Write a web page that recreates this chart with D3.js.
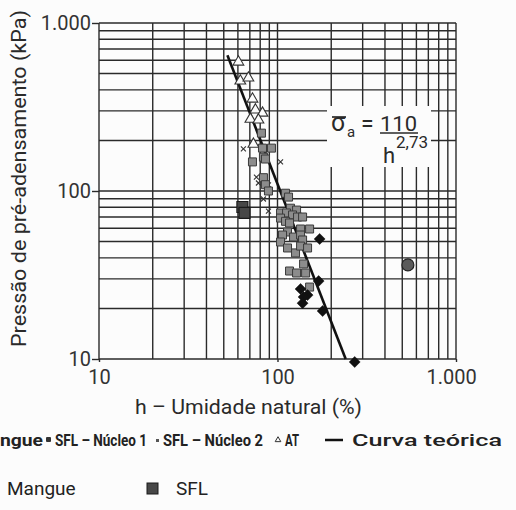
<!DOCTYPE html>
<html><head><meta charset="utf-8">
<script src="https://cdn.jsdelivr.net/npm/d3@7"></script>
<style>
body{margin:0;background:#fcfcfc}
svg{display:block}
</style>
</head><body>
<svg id="c" width="516" height="510"></svg>
<script>
// ---------- DATA ----------
const xTickValues = [10, 100, 1000];
const xTickLabels = ["10", "100", "1.000"];
const yTickValues = [10, 100, 1000];
const yTickLabels = ["10", "100", "1.000"];

// SFL – Núcleo 1 (grey squares) : [h (%), sigma (kPa)]
const nucleo1 = [
  [81.3,221],[82.4,180],[92.5,180],[72.4,149],[83.4,159],[85.6,155],[83.4,120],[85.6,109],
  [89.0,100],[110.9,97],[115.3,92],[118.3,79],[127.9,77],[104,74],[112.4,74],[121.4,72],
  [104,69],[110.9,66],[116.8,64.5],[129.5,70],[138.2,70],[134.7,59.4],[151.3,59.4],[113.8,57],
  [106.7,54.7],[123,53.2],[134.7,54.7],[138.2,51.1],[104,49.7],[113.8,45.8],[126.2,42.8],
  [134.7,47],[147.4,45.8],[140,36.8],[116.8,33.4],[127.9,32.5],[143.7,32.5],[151.3,26.8]
];
// SFL – Núcleo 2 (x marks)
const nucleo2 = [[64.4,178],[104,149],[76.2,121],[78.2,111.6],[89.0,108.6],[83.4,89.6],[89.0,76]];
// AT (open triangles)
const atData = [[60.4,586],[61.9,452],[68.7,471],[72.4,353],[75.2,304],[82.4,291],[70.5,268],[78.2,265],[73.3,190]];
// black diamonds
const diamonds = [[172.2,51.8],[170,29.1],[134.7,26.1],[147.4,24.0],[140,23.4],[138.2,21.5],[179,19.3],[270.7,9.6]];
// Mangue (large dark squares)
const mangue = [[63.6,80.3],[65.3,74.0]];
// SFL (circle)
const circleData = [[537.6,36.3]];
// Curva teórica endpoints
const curveH = [52.4, 241];
const curveSigma = [642, 10];

const xTitle = "h – Umidade natural (%)";
const yTitle = "Pressão de pré-adensamento (kPa)";
const legend1 = ["ngue", "SFL – Núcleo 1", "SFL – Núcleo 2", "AT", "Curva teórica"];
const legend2 = ["Mangue", "SFL"];

// ---------- DRAW ----------
const svg = d3.select("#c");
const FONT = "Roboto, 'DejaVu Sans', sans-serif";
const ink = "#2a2a2a";

const x = d3.scaleLog().domain([10, 1000]).range([99, 456]);
const y = d3.scaleLog().domain([10, 1000]).range([359, 23]);

// grid
const grid = svg.append("g").attr("stroke", "#2a2a2a").attr("stroke-width", 1.4);
grid.selectAll("line.v").data(x.ticks()).join("line")
  .attr("x1", d => x(d)).attr("x2", d => x(d))
  .attr("y1", y(1000)).attr("y2", y(10));
grid.selectAll("line.h").data(y.ticks()).join("line")
  .attr("y1", d => y(d)).attr("y2", d => y(d))
  .attr("x1", x(10)).attr("x2", x(1000));

// axes with ticks
const yAxis = d3.axisLeft(y).tickValues(yTickValues)
  .tickFormat((d, i) => yTickLabels[i]).tickSize(7).tickPadding(1);
const gy = svg.append("g").attr("transform", `translate(${x(10)},0)`).call(yAxis);
const xAxis = d3.axisBottom(x).tickValues(xTickValues)
  .tickFormat((d, i) => xTickLabels[i]).tickSize(3).tickPadding(8);
const gx = svg.append("g").attr("transform", `translate(0,${y(10)})`).call(xAxis);
[gx, gy].forEach(g => {
  g.select(".domain").remove();
  g.selectAll(".tick line").attr("stroke", "#2a2a2a").attr("stroke-width", 1.4);
  g.selectAll(".tick text").attr("font-family", FONT).attr("font-size", 20).attr("fill", "#333");
});
gx.selectAll(".tick text").attr("dx", (d, i) => i === 2 ? -5 : 0);

// formula box
svg.append("rect").attr("x", 327).attr("y", 106).attr("width", 104).attr("height", 61).attr("fill", "#fcfcfc");
const ft = svg.append("g").attr("font-family", FONT).attr("fill", ink);
ft.append("text").attr("x", 331).attr("y", 131).attr("font-size", 25).text("σ");
ft.append("line").attr("x1", 332).attr("x2", 346).attr("y1", 117).attr("y2", 117).attr("stroke", ink).attr("stroke-width", 1.7);
ft.append("text").attr("x", 347).attr("y", 137).attr("font-size", 15).text("a");
ft.append("text").attr("x", 361).attr("y", 132).attr("font-size", 23).text("=");
ft.append("text").attr("x", 380).attr("y", 131).attr("font-size", 20).attr("textLength", 37).attr("lengthAdjust","spacingAndGlyphs").text("110");
ft.append("line").attr("x1", 380).attr("x2", 418).attr("y1", 133).attr("y2", 133).attr("stroke", ink).attr("stroke-width", 1.6);
ft.append("text").attr("x", 383).attr("y", 163).attr("font-size", 22).text("h");
ft.append("text").attr("x", 396).attr("y", 148).attr("font-size", 16).attr("textLength", 32).attr("lengthAdjust","spacingAndGlyphs").text("2,73");

// theoretical curve
const line = d3.line().x(d => x(d[0])).y(d => y(d[1]));
svg.append("path").datum(curveH.map((h, i) => [h, curveSigma[i]]))
  .attr("d", line).attr("stroke", "#111").attr("stroke-width", 2.6).attr("fill", "none");

// symbols
const xShape = { draw(ctx, size) { const r = Math.sqrt(size) / 2; ctx.moveTo(-r, -r); ctx.lineTo(r, r); ctx.moveTo(r, -r); ctx.lineTo(-r, r); } };
const diamondShape = { draw(ctx, size) { const r = Math.sqrt(size) / 2; ctx.moveTo(0, -r); ctx.lineTo(r, 0); ctx.lineTo(0, r); ctx.lineTo(-r, 0); ctx.closePath(); } };

function plot(data, type, size, fill, stroke, sw) {
  svg.append("g").selectAll("path").data(data).join("path")
    .attr("transform", d => `translate(${x(d[0])},${y(d[1])})`)
    .attr("d", d3.symbol().type(type).size(size))
    .attr("fill", fill).attr("stroke", stroke).attr("stroke-width", sw);
}
plot(atData, d3.symbolTriangle, 50, "#fcfcfc", "#333", 1.1);
plot(nucleo2, xShape, 25, "none", "#333", 1.1);
plot(nucleo1, d3.symbolSquare, 64, "#8c8c8c", "#3a3a3a", 1);
plot(diamonds, diamondShape, 121, "#111", "#111", 0.5);
plot(mangue, d3.symbolSquare, 121, "#474747", "#1a1a1a", 1.2);
plot(circleData, d3.symbolCircle, 113, "#5a5a5a", "#222", 1.2);

// axis titles
svg.append("text").attr("x", 135).attr("y", 414).attr("font-family", FONT).attr("font-size", 20)
  .attr("fill", ink).attr("textLength", 227).attr("lengthAdjust", "spacingAndGlyphs").text(xTitle);
svg.append("text").attr("transform", "translate(26,347) rotate(-90)").attr("font-family", FONT).attr("font-size", 20)
  .attr("fill", ink).attr("textLength", 337).attr("lengthAdjust", "spacingAndGlyphs").text(yTitle);

// legend row 1
const L1 = svg.append("g").attr("font-family", FONT).attr("font-size", 16).attr("font-weight", 700).attr("fill", "#222");
const l1x = [[0, 43, 700], [55, 92, 700], [163, 100, 700], [285, 14, 700], [352, 150, 500]];
legend1.forEach((t, i) => {
  L1.append("text").attr("x", l1x[i][0]).attr("y", 446).attr("textLength", l1x[i][1])
    .attr("font-weight", l1x[i][2]).attr("font-size", i === 4 ? 17 : 16)
    .attr("lengthAdjust", "spacingAndGlyphs").text(t);
});
L1.append("rect").attr("x", 46).attr("y", 437).attr("width", 5).attr("height", 5).attr("rx", 1).attr("fill", "#333");
L1.append("rect").attr("x", 156).attr("y", 439).attr("width", 3).attr("height", 3).attr("fill", "#555");
L1.append("path").attr("transform", "translate(278,440)").attr("d", d3.symbol().type(d3.symbolTriangle).size(14))
  .attr("fill", "#fcfcfc").attr("stroke", "#333").attr("stroke-width", 1);
L1.append("line").attr("x1", 325).attr("x2", 343).attr("y1", 440).attr("y2", 440).attr("stroke", "#111").attr("stroke-width", 2.5);

// legend row 2
const L2 = svg.append("g").attr("font-family", FONT).attr("font-size", 19).attr("fill", "#222");
L2.append("text").attr("x", 7).attr("y", 495).text(legend2[0]);
L2.append("rect").attr("x", 147).attr("y", 483).attr("width", 11).attr("height", 11)
  .attr("fill", "#474747").attr("stroke", "#1a1a1a").attr("stroke-width", 1);
L2.append("text").attr("x", 176).attr("y", 495).text(legend2[1]);
</script>
</body></html>
